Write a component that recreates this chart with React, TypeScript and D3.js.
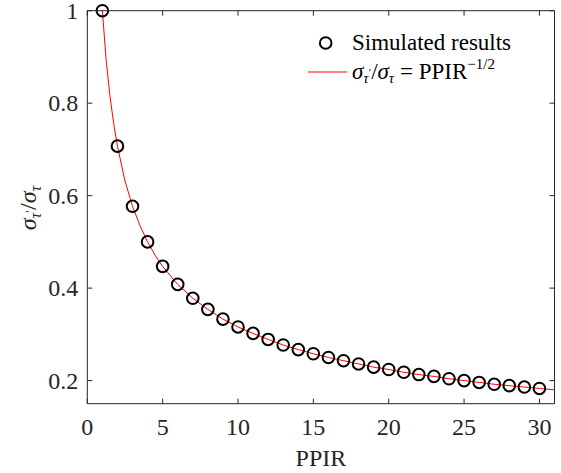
import React, { useLayoutEffect } from "react";
import * as d3 from "d3";

const ppir = [1,2,3,4,5,6,7,8,9,10,11,12,13,14,15,16,17,18,19,20,21,22,23,24,25,26,27,28,29,30];
const simulated = [1.0,0.707,0.577,0.5,0.447,0.408,0.378,0.354,0.333,0.316,0.302,0.289,0.277,0.267,0.258,0.25,0.243,0.236,0.229,0.224,0.218,0.213,0.209,0.204,0.2,0.196,0.192,0.189,0.186,0.183];
const curveX = [1,1.25,1.5,1.75,2,2.5,3,3.5,4,4.5,5,6,7,8,9,10,11,12,13,14,15,16,17,18,19,20,21,22,23,24,25,26,27,28,29,30,31];
const curveY = [1.0,0.894,0.816,0.756,0.707,0.632,0.577,0.535,0.5,0.471,0.447,0.408,0.378,0.354,0.333,0.316,0.302,0.289,0.277,0.267,0.258,0.25,0.243,0.236,0.229,0.224,0.218,0.213,0.209,0.204,0.2,0.196,0.192,0.189,0.186,0.183,0.18];
const xTicks = [0,5,10,15,20,25,30];
const yTicks = [0.2,0.4,0.6,0.8,1];
const yTickLabels = ["0.2","0.4","0.6","0.8","1"];

const W = 561, H = 473;
const L = 87.3, R = 554.5, T = 10.7, B = 403.7;
const font = "Times New Roman";
const txt = "#262626";

export default function App() {
  useLayoutEffect(() => {
    document.body.style.margin = "0";
  }, []);
  const x = d3.scaleLinear().domain([0, 31]).range([L, R]);
  const y = d3.scaleLinear().domain([0.15, 1]).range([B, T]);
  const line = d3.line<number>().x((_, i) => x(curveX[i])).y((d) => y(d));
  const tl = 5;
  return (
    <svg width={W} height={H}>
      <rect x={0} y={0} width={W} height={H} fill="#fff" />
      <path d={line(curveY) || ""} fill="none" stroke="#ff0000" strokeWidth={1} />
      {ppir.map((p, i) => (
        <circle key={i} cx={x(p)} cy={y(simulated[i])} r={5.8} fill="none" stroke="#000" strokeWidth={2} />
      ))}
      <line x1={L} x2={R} y1={T} y2={T} stroke={txt} strokeWidth={1} />
      <line x1={R} x2={R} y1={T} y2={B} stroke={txt} strokeWidth={1} />
      <line x1={L} x2={R} y1={B} y2={B} stroke={txt} strokeWidth={1} />
      <line x1={L} x2={L} y1={T} y2={B} stroke={txt} strokeWidth={1} />
      {xTicks.map((t) => (
        <line key={"xb" + t} x1={x(t)} x2={x(t)} y1={B} y2={B - tl} stroke={txt} />
      ))}
      {xTicks.map((t) => (
        <line key={"xt" + t} x1={x(t)} x2={x(t)} y1={T} y2={T + tl} stroke={txt} />
      ))}
      {yTicks.map((t) => (
        <line key={"yl" + t} x1={L} x2={L + tl} y1={y(t)} y2={y(t)} stroke={txt} />
      ))}
      {yTicks.map((t) => (
        <line key={"yr" + t} x1={R} x2={R - tl} y1={y(t)} y2={y(t)} stroke={txt} />
      ))}
      {xTicks.map((t) => (
        <text key={"xl" + t} x={x(t)} y={B + 31} textAnchor="middle" fontSize={24} fontFamily={font} fill={txt}>{t}</text>
      ))}
      {yTicks.map((t, i) => (
        <text key={"ylb" + t} x={L - 9} y={y(t) + 8} textAnchor="end" fontSize={24} fontFamily={font} fill={txt}>{yTickLabels[i]}</text>
      ))}
      <text x={(L + R) / 2} y={466} textAnchor="middle" fontSize={24} fontFamily={font} fill={txt}>PPIR</text>
      <text transform={`translate(36, 208) rotate(-90)`} textAnchor="middle" fontSize={24} fontFamily={font} fill={txt}>
        <tspan fontStyle="italic">σ</tspan>
        <tspan fontStyle="italic" fontSize={16} dy={5}>τ</tspan>
        <tspan fontSize={12} dy={-7}>′</tspan>
        <tspan dy={2}>/</tspan>
        <tspan fontStyle="italic">σ</tspan>
        <tspan fontStyle="italic" fontSize={16} dy={5}>τ</tspan>
      </text>
      <circle cx={325.7} cy={43} r={5.8} fill="none" stroke="#000" strokeWidth={2} />
      <text x={352} y={50} fontSize={23} fontFamily={font}>Simulated results</text>
      <line x1={308} x2={347} y1={72} y2={72} stroke="#ff0000" strokeWidth={1} />
      <text x={352} y={79} fontSize={23} fontFamily={font}>
        <tspan fontStyle="italic">σ</tspan>
        <tspan fontStyle="italic" fontSize={15} dy={4}>τ</tspan>
        <tspan fontSize={11} dy={-7}>′</tspan>
        <tspan dy={3}>/</tspan>
        <tspan fontStyle="italic">σ</tspan>
        <tspan fontStyle="italic" fontSize={15} dy={4}>τ</tspan>
        <tspan dy={-4}> = PPIR</tspan>
        <tspan fontSize={15} dy={-10}>−1/2</tspan>
      </text>
    </svg>
  );
}
